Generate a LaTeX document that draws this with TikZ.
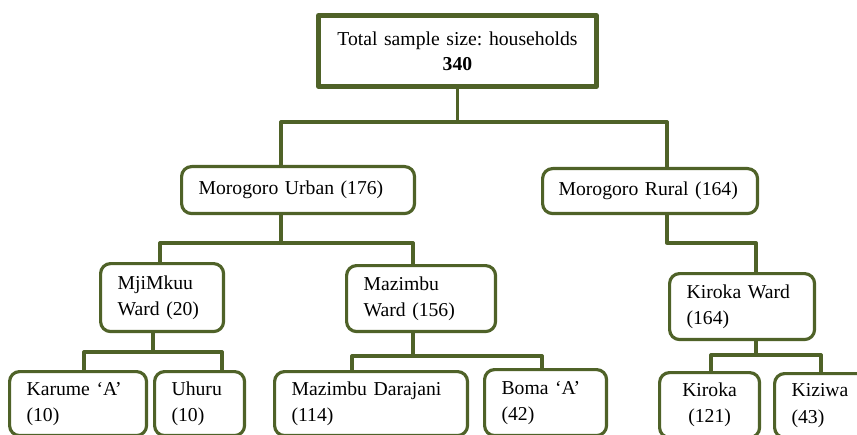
\documentclass[tikz,border=0pt]{standalone}
\usepackage{fontspec}
\setmainfont{Liberation Serif}
\frenchspacing
\definecolor{olivedark}{RGB}{79,98,40}

\begin{document}
\begin{tikzpicture}[line cap=round,line join=round,x=0.02cm,y=-0.02cm,
    box/.style={draw=olivedark,line width=1.8pt,rounded corners=0.2cm,anchor=north west,align=left,
      inner xsep=0.34cm,inner ysep=0pt,font=\fontsize{11.2}{14.8}\selectfont},
    link/.style={draw=olivedark,line width=1.9pt}]
  \clip (0,0) rectangle (857,435);

  % boxes
  \node[box,sharp corners,line width=2.8pt,align=center,text width=4.88cm,minimum height=1.42cm,
    font=\fontsize{11.2}{14.3}\selectfont] (total) at (316,13) {Total sample size: households\\\textbf{340}};

  \node[box,text width=3.98cm,minimum height=0.94cm] (urban) at (180,165) {Morogoro Urban (176)};
  \node[box,inner xsep=0.32cm,text width=3.66cm,minimum height=0.90cm] (rural) at (541,167) {Morogoro Rural (164)};

  \node[box,text width=1.78cm,minimum height=1.36cm] (mjimkuu) at (99,262) {MjiMkuu\\Ward (20)};
  \node[box,text width=2.30cm,minimum height=1.32cm] (mazimbu) at (345,264) {Mazimbu\\Ward (156)};
  \node[box,text width=2.22cm,minimum height=1.32cm] (kirokaw) at (668,272) {Kiroka Ward\\(164)};

  \node[box,text width=2.06cm,minimum height=1.28cm] (karume) at (8,370) {Karume ‘A’\\(10)};
  \node[box,text width=1.12cm,minimum height=1.28cm] (uhuru) at (153,370) {Uhuru\\(10)};
  \node[box,text width=3.18cm,minimum height=1.28cm] (darajani) at (273,370) {Mazimbu Darajani\\(114)};
  \node[box,text width=1.76cm,minimum height=1.32cm] (boma) at (483,368) {Boma ‘A’\\(42)};
  \node[box,align=center,text width=1.32cm,minimum height=1.30cm] (kiroka) at (658,371) {Kiroka\\(121)};
  \node[box,text width=1.46cm,minimum height=1.28cm] (kiziwa) at (773,372) {Kiziwa\\(43)};

  % branch points
  \coordinate (b1l) at (281,122);
  \coordinate (b1r) at (667,122);
  \coordinate (b1m) at (total.south |- b1l);
  \coordinate (b2m) at (281,243);
  \coordinate (b2l) at (160,243);
  \coordinate (b2r) at (413,243);
  \coordinate (b3l) at (667,243);
  \coordinate (b3r) at (756,243);
  \coordinate (b4m) at (153,352);
  \coordinate (b4l) at (84,352);
  \coordinate (b4r) at (222,352);
  \coordinate (b5m) at (413,356);
  \coordinate (b5l) at (352,356);
  \coordinate (b5r) at (542,356);
  \coordinate (b6m) at (756,355);
  \coordinate (b6l) at (711,355);
  \coordinate (b6r) at (821,355);

  % connectors
  \draw[link] (b3l |- rural.south) -- (b3l) -- (b3r) -- (b3r |- kirokaw.north);
  \foreach \m/\l/\r/\up/\lc/\rc in {b1m/b1l/b1r/total/urban/rural,
      b2m/b2l/b2r/urban/mjimkuu/mazimbu,
      b4m/b4l/b4r/mjimkuu/karume/uhuru,
      b5m/b5l/b5r/mazimbu/darajani/boma,
      b6m/b6l/b6r/kirokaw/kiroka/kiziwa}{
    \draw[link] (\m |- \up.south) -- (\m);
    \draw[link] (\l) -- (\r);
    \draw[link] (\l) -- (\l |- \lc.north);
    \draw[link] (\r) -- (\r |- \rc.north);
  }
\end{tikzpicture}
\end{document}
